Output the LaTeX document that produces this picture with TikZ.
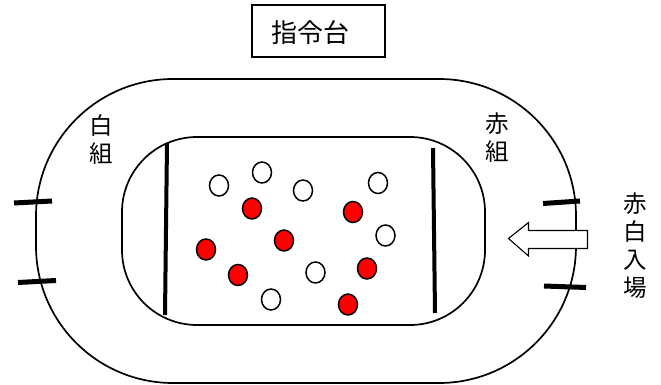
\documentclass[tikz,border=0pt]{standalone}
\usepackage{fontspec}
\newfontfamily\jp{Noto Sans CJK JP}
\tikzset{
  track/.style={draw=black, line width=1.7pt},
  wball/.style={ellipse, draw=black, line width=1.5pt, fill=white, minimum width=19pt, minimum height=21pt, inner sep=0pt},
  rball/.style={ellipse, draw=black, line width=1.5pt, fill=red, minimum width=19pt, minimum height=21pt, inner sep=0pt},
  tick/.style={line width=5pt, line cap=butt},
  goal/.style={line width=4pt},
  lbl/.style={font=\jp\fontsize{23.5}{28}\selectfont, align=center, inner sep=0pt},
}
\usetikzlibrary{shapes.geometric}
\begin{document}
\begin{tikzpicture}[x=1pt,y=-1pt]
\useasboundingbox (0,0) rectangle (661,385);
% command stand
\node[draw=black, line width=1.5pt, minimum width=133pt, minimum height=52pt, inner sep=0pt] (stand) at (318.5,31) {};
\node[lbl, font=\jp\fontsize{26}{30}\selectfont] (standtxt) at (310,32.5) {指令台};
% outer track
\draw[track, rounded corners=137pt] (36,79) rectangle (576,383);
% inner field
\draw[track, rounded corners=75pt] (122,137) rectangle (485,325);
% goal lines
\coordinate (gl1) at (167,143); \coordinate (gl2) at (165,315);
\coordinate (gr1) at (433,148); \coordinate (gr2) at (435,313);
\draw[goal] (gl1) -- (gl2);
\draw[goal] (gr1) -- (gr2);
% ticks
\coordinate (t1a) at (14,203); \coordinate (t1b) at (52,201);
\coordinate (t2a) at (18,282.5); \coordinate (t2b) at (56,280.5);
\coordinate (t3a) at (543,203.5); \coordinate (t3b) at (580,201);
\coordinate (t4a) at (544,286); \coordinate (t4b) at (586,287.5);
\draw[tick] (t1a) -- (t1b);
\draw[tick] (t2a) -- (t2b);
\draw[tick] (t3a) -- (t3b);
\draw[tick] (t4a) -- (t4b);
% balls
\node[wball] (w1) at (219,185.5) {};
\node[wball] (w2) at (262,172.5) {};
\node[wball] (w3) at (303,190.5) {};
\node[wball] (w4) at (378,183) {};
\node[wball] (w5) at (385.5,235.5) {};
\node[wball] (w6) at (315.5,272.5) {};
\node[wball] (w7) at (271,299.5) {};
\node[rball] (r1) at (252,208.5) {};
\node[rball] (r2) at (353,212) {};
\node[rball] (r3) at (284,240.5) {};
\node[rball] (r4) at (206,249.5) {};
\node[rball] (r5) at (238,275) {};
\node[rball] (r6) at (367,268.5) {};
\node[rball] (r7) at (348,304.5) {};
% entry arrow
\draw[line width=1.1pt, fill=white] (508.5,238.5) -- (528.5,222.5) -- (528.5,230.5) -- (587.5,230.5) -- (587.5,248.5) -- (528.5,248.5) -- (528.5,256) -- cycle;
% labels
\node[lbl] (white) at (101,140) {白\\組};
\node[lbl] (red) at (497,138) {赤\\組};
\node[lbl] (entry) at (635,245.5) {赤\\白\\入\\場};
\end{tikzpicture}
\end{document}
